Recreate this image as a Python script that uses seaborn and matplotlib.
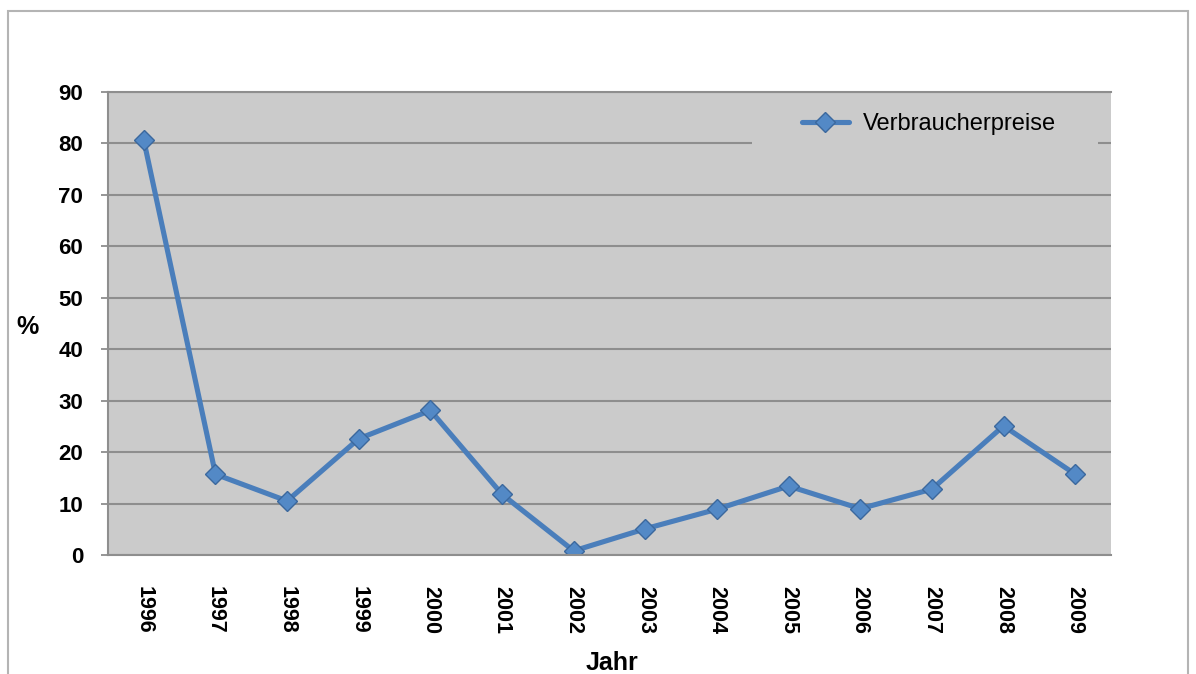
import matplotlib
matplotlib.use("Agg")
import matplotlib.pyplot as plt
import seaborn as sns
import pandas as pd
from matplotlib.patches import Rectangle

# Verbraucherpreise in %, 1996 - 2009
jahre = ["1996", "1997", "1998", "1999", "2000", "2001", "2002",
         "2003", "2004", "2005", "2006", "2007", "2008", "2009"]
werte = [80.6, 15.7, 10.5, 22.6, 28.1, 11.8, 0.8,
         5.1, 8.9, 13.4, 9.0, 12.8, 25.1, 15.7]
serie = "Verbraucherpreise"
y_ticks = [0, 10, 20, 30, 40, 50, 60, 70, 80, 90]

df = pd.DataFrame({"Jahr": jahre, "Wert": werte})

sns.set_style("white")
plt.rcParams['font.family'] = ['Liberation Sans', 'DejaVu Sans']
plt.rcParams['text.color'] = "black"
plt.rcParams['xtick.labelcolor'] = "black"
plt.rcParams['ytick.labelcolor'] = "black"
plt.rcParams['axes.labelcolor'] = "black"

bg = "#cbcbcb"
grid_c = "#8e8e8e"
blau = "#4a7ebb"

fig = plt.figure(figsize=(11.96, 6.74), dpi=100)
ax = fig.add_axes([108/1196, 1-555/674, 1003/1196, 463/674])
ax.set_facecolor(bg)

sns.lineplot(data=df, x="Jahr", y="Wert", ax=ax, color=blau, linewidth=3.7,
             marker="D", markersize=10, markerfacecolor="#5389c6",
             markeredgecolor="#3b689d", markeredgewidth=1.0,
             label=serie, sort=False)

ax.set_xlim(-0.5, len(jahre) - 0.5)
ax.set_ylim(0, 90)
ax.set_yticks(y_ticks)
ax.set_yticklabels([str(t) for t in y_ticks], fontsize=16, fontweight="bold")
ax.set_xticks(range(len(jahre)))
ax.set_xticklabels(jahre, rotation=-90, fontsize=15.5, fontweight="bold")
ax.set_xticks([i - 0.5 for i in range(len(jahre) + 1)], minor=True)
ax.tick_params(axis="x", which="major", length=0, pad=22)
ax.tick_params(axis="x", which="minor", length=6, width=1.3, color=grid_c)
ax.tick_params(axis="y", length=5, width=1.3, color=grid_c, pad=13, left=True)

ax.yaxis.grid(True, color=grid_c, linewidth=1.5)
ax.xaxis.grid(False)
ax.set_axisbelow(True)

ax.spines["right"].set_visible(False)
for s in ["left", "bottom", "top"]:
    ax.spines[s].set_color(grid_c)
    ax.spines[s].set_linewidth(1.5)

# Legendenfläche verdeckt die Gitterlinie
ax.add_patch(Rectangle((0.642, 0.83), 0.345, 0.15, transform=ax.transAxes,
                       facecolor=bg, edgecolor="none", zorder=1))
ax.legend(loc="center left", bbox_to_anchor=(0.68, 0.931), frameon=False,
          fontsize=17, borderpad=0, handlelength=2.0, handletextpad=0.6,
          labelcolor="black")

ax.set_ylabel("%", rotation=0, fontsize=18, fontweight="bold")
ax.yaxis.set_label_coords(-0.0798, 0.4924)
ax.yaxis.label.set_va("center")
ax.yaxis.label.set_ha("center")
ax.set_xlabel("Jahr", fontsize=18, fontweight="bold")
ax.xaxis.set_label_coords(0.5025, -0.233)
ax.xaxis.label.set_va("center")

# grauer Rahmen um das Diagramm
fig.patches.append(Rectangle((8/1196, -0.1), 1180/1196, 0.1 + 1 - 11/674,
                             transform=fig.transFigure, fill=False,
                             edgecolor="#b4b4b4", linewidth=1.5))

fig.savefig("out.png", dpi=100)
